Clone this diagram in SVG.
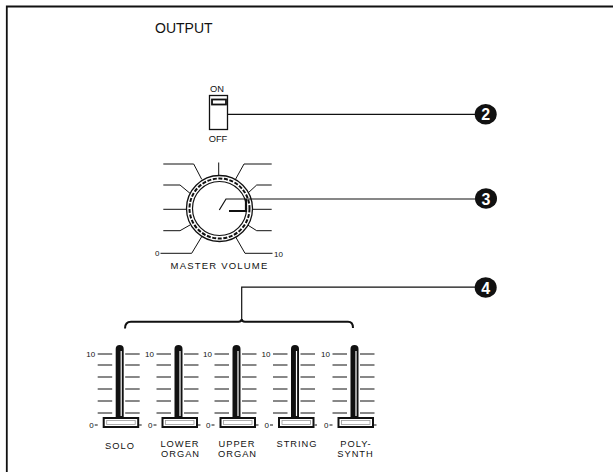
<svg xmlns="http://www.w3.org/2000/svg" xmlns:xlink="http://www.w3.org/1999/xlink" width="613" height="472" viewBox="0 0 613 472">
<style>
text{font-family:"Liberation Sans",Arial,sans-serif;fill:#111}
.lbl{font-size:9.3px;letter-spacing:1px;text-anchor:middle}
.sm{font-size:8px}
.ln{fill:none;stroke:#111;stroke-width:1.2}
.th{fill:none;stroke:#111;stroke-width:1}
.num{font-size:16px;font-weight:bold;fill:#fff;text-anchor:middle}
</style>
<defs>
<g id="slider">
  <path d="M-4,418 V349 A4,4 0 0 1 4,349 V418 Z" fill="#111"/>
  <line x1="1.5" y1="351" x2="1.5" y2="416" stroke="#fff" stroke-width="1.2"/>
  <g class="th">
    <path d="M-22,354 H-7.5 M-22,365 H-7.5 M-22,377 H-7.5 M-22,389 H-7.5 M-22,401 H-7.5 M-22,413 H-7.5"/>
    <path d="M5.5,354 H20 M5.5,365 H20 M5.5,377 H20 M5.5,389 H20 M5.5,401 H20 M5.5,413 H20"/>
    <path d="M-25,425 H-22 M19.5,425 H22"/>
  </g>
  <rect x="-16" y="418" width="34.5" height="9" fill="#fff" stroke="#111" stroke-width="2"/>
  <rect x="-13" y="420.5" width="28.5" height="4" fill="none" stroke="#999" stroke-width="0.8"/>
  <text class="sm" x="-24.5" y="357" text-anchor="end">10</text>
  <text class="sm" x="-26" y="428" text-anchor="end">0</text>
</g>
</defs>

<g id="frame">
  <path d="M6.8,472 L6.8,6.5 L613,6.5" fill="none" stroke="#111" stroke-width="1.8"/>
</g>

<g id="title">
  <text x="155" y="33.3" font-size="14">OUTPUT</text>
</g>

<g id="switch">
  <text x="217" y="91.7" font-size="9.3" text-anchor="middle">ON</text>
  <rect x="209.5" y="95.5" width="18" height="34" fill="#fff" stroke="#111" stroke-width="1.3"/>
  <rect x="212" y="99.5" width="14" height="5" fill="#fff" stroke="#111" stroke-width="1.8"/>
  <text x="218" y="141.7" font-size="9.3" text-anchor="middle">OFF</text>
</g>

<g id="knob">
  <g class="th">
    <path d="M201.7,179.3 L193.7,164 H163.3"/>
    <path d="M218.7,162.5 V176"/>
    <path d="M235.5,179.3 L244,164 H271.7"/>
    <path d="M190,193.3 L180,185 H163.3"/>
    <path d="M247.7,193.3 L256.7,185 H271.7"/>
    <path d="M186.5,209.3 H163.3"/>
    <path d="M252.5,209.3 H271.7"/>
    <path d="M190,225 L180,230.7 H163.3"/>
    <path d="M247.7,225 L256.7,230.7 H271.7"/>
    <path d="M201.7,236.7 L191.7,253.3 H160.5"/>
    <path d="M235.5,236.7 L245,253.3 H272.5"/>
  </g>
  <circle cx="219.5" cy="208.5" r="33" fill="#fff" stroke="#111" stroke-width="1.3"/>
  <circle cx="219.5" cy="208.5" r="30" fill="none" stroke="#111" stroke-width="2" stroke-dasharray="4 1.6"/>
  <circle cx="219.5" cy="208.5" r="27" fill="#fff" stroke="#111" stroke-width="1.2"/>
  <path d="M229,211 H246 V199" fill="none" stroke="#111" stroke-width="2.2"/>
  <text class="sm" x="155" y="256">0</text>
  <text class="sm" x="274" y="256.5">10</text>
  <text x="219.5" y="269.3" font-size="9.5" letter-spacing="1.2" text-anchor="middle">MASTER VOLUME</text>
</g>

<g id="sliders">
  <use xlink:href="#slider" transform="translate(119.7,0)"/>
  <use xlink:href="#slider" transform="translate(178.5,0)"/>
  <use xlink:href="#slider" transform="translate(236.5,0)"/>
  <use xlink:href="#slider" transform="translate(295,0)"/>
  <use xlink:href="#slider" transform="translate(354.5,0)"/>
  <text class="lbl" x="120" y="448.5">SOLO</text>
  <text class="lbl" x="180" y="446.8">LOWER</text>
  <text class="lbl" x="180.5" y="456.8">ORGAN</text>
  <text class="lbl" x="237" y="446.8">UPPER</text>
  <text class="lbl" x="237.5" y="456.8">ORGAN</text>
  <text class="lbl" x="297" y="446.8">STRING</text>
  <text class="lbl" x="356" y="446.8">POLY-</text>
  <text class="lbl" x="355.5" y="456.8">SYNTH</text>
</g>

<g id="brace">
  <path d="M125,328.5 Q125,321.8 131,321.8 H238.5 Q241.7,321.8 241.7,319 Q241.7,321.8 245,321.8 H348 Q353,321.8 353,328" fill="none" stroke="#111" stroke-width="2"/>
</g>

<g id="connectors">
  <path class="ln" d="M227.7,114.3 H476"/>
  <path class="ln" d="M219.3,210 L226,199 H476"/>
  <path class="ln" d="M241.7,319.5 V287.2 H476"/>
</g>

<g id="callout2">
  <ellipse cx="485.7" cy="114.3" rx="11" ry="10.3" fill="#111"/>
  <text class="num" x="485.7" y="120.3">2</text>
</g>
<g id="callout3">
  <ellipse cx="486" cy="198.5" rx="11" ry="10.3" fill="#111"/>
  <text class="num" x="486" y="204.5">3</text>
</g>
<g id="callout4">
  <ellipse cx="485.7" cy="287.5" rx="11" ry="10.3" fill="#111"/>
  <text class="num" x="485.7" y="293.5">4</text>
</g>
</svg>
